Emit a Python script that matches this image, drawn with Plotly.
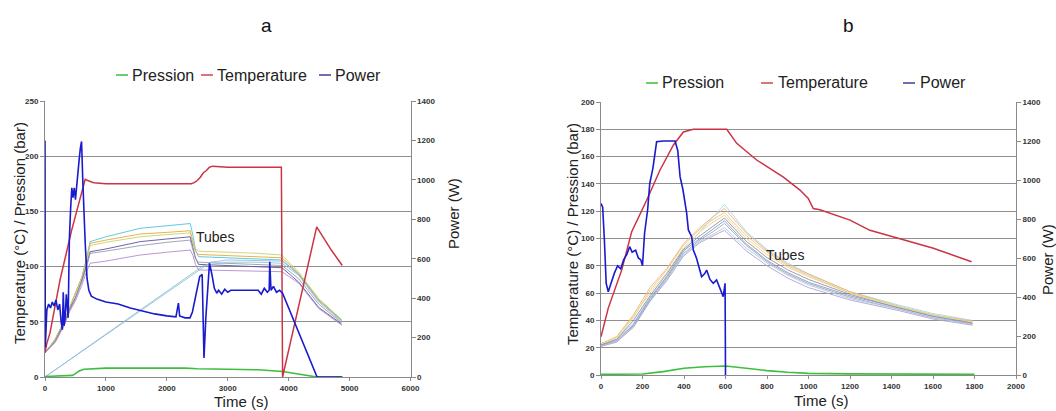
import plotly.graph_objects as go

W, H = 1056, 411

# ================= Panel a data =================
press_t_a = [0, 200, 450, 500, 560, 640, 800, 1000, 2300, 2500, 3000, 3500, 3900, 4466, 4880]
press_v_a = [0.5, 1, 1.5, 3, 5.5, 7, 7.5, 8, 8, 7.5, 7, 6.5, 5, 0, 0]

temp_t_a = [0, 28, 82, 247, 438, 600, 660, 700, 800, 1000, 1500, 2000, 2400, 2450, 2500,
            2550, 2600, 2650, 2700, 2750, 3000, 3500, 3880, 3900, 4460, 4550, 4700, 4880]
temp_v_a = [22, 30, 40, 88, 133, 168, 179, 178, 176, 175, 175, 175, 175, 176, 178,
            181, 185, 187, 190, 191, 190, 190, 190, 0, 136, 128, 115, 101]

power_t_a = [0, 5, 30, 60, 90, 120, 150, 180, 210, 240, 265, 285, 300, 315, 330, 350, 380,
             400, 420, 440, 460, 480, 500, 530, 560, 580, 600, 620, 640, 660, 690, 720, 760,
             850, 1000, 1200, 1400, 1600, 1800, 2000, 2150, 2190, 2210, 2300, 2380, 2420,
             2480, 2540, 2580, 2610, 2640, 2700, 2740, 2780, 2820, 2850, 2900, 2950, 3000,
             3050, 3100, 3500, 3550, 3600, 3650, 3680, 3690, 3710, 3750, 3800, 3850, 3900,
             4466, 4880]
power_v_a = [1200, 150, 340, 370, 350, 380, 360, 390, 340, 370, 280, 240, 430, 260, 300, 420, 300,
             700, 850, 960, 910, 960, 900, 1020, 1100, 1160, 1195, 1000, 800, 680, 500, 440, 410,
             395, 380, 370, 350, 335, 320, 310, 305, 375, 310, 300, 300, 330,
             430, 510, 520, 96, 300, 577, 520, 450, 425, 440, 420, 445, 430,
             440, 440, 440, 420, 450, 430, 440, 585, 440, 460, 430, 440, 425,
             0, 0]

tube_t_a = [0, 164, 301, 411, 500, 603, 685, 740, 1000, 1562, 2000, 2384, 2430, 2470, 2520,
            3000, 3500, 3890, 4164, 4493, 4870]
tube_v_a = [
    [22, 34, 49, 64, 75, 90, 108, 122.6, 127, 134.7, 137, 139, 128, 115, 109, 108, 107, 106, 93, 70, 51.6],
    [22, 34, 49, 64, 75, 90, 107, 121, 124, 129.5, 131, 132.5, 122, 114, 111, 110, 109, 108, 94, 70, 51],
    [22, 33, 48, 63, 74, 89, 105, 119, 122, 127, 129, 130.5, 121, 116, 114, 113, 112, 110.5, 95, 71, 52],
    [22, 32, 47, 62, 72, 87, 102, 113.5, 116, 122.6, 125, 127, 117, 108, 102, 101, 100, 99, 86, 63, 48],
    [22, 32, 46, 61, 71, 86, 100, 112, 114, 119, 122, 124, 115, 107, 104, 103, 102, 101, 89, 66, 49],
    [22, 31, 45, 60, 69, 83, 96, 103, 105, 110.5, 113, 115, 110, 102, 97, 96.5, 96, 95.4, 85, 62, 47],
]
tube7_t_a = [0, 2600, 3000, 3500, 3890, 4164, 4493, 4870]
tube7_v_a = [0, 101, 104, 104, 103, 92, 68, 50]
tube8_t_a = [0, 2720, 3000, 3500, 3890, 4164, 4493, 4870]
tube8_v_a = [0, 104, 106, 105.5, 105, 93, 69, 51]

# ================= Panel b data =================
press_t_b = [0, 200, 300, 400, 500, 600, 700, 800, 900, 1000, 1200, 1400, 1800]
press_v_b = [0.5, 0.7, 2.5, 4.9, 6, 6.6, 5, 3.2, 2, 1.2, 0.8, 0.6, 0.5]

temp_t_b = [0, 35, 100, 148, 220, 284, 349, 397, 445, 500, 606, 654, 750, 879, 959, 999,
            1023, 1055, 1200, 1296, 1441, 1602, 1786]
temp_v_b = [28, 49, 77, 105, 128, 150, 168.5, 178, 180, 180, 180, 169.7, 157.5, 145, 135.5, 129.4,
            122, 121, 113.5, 106, 100, 92.8, 83]

power_t_b = [0, 8, 16, 25, 35, 50, 64, 80, 95, 109, 125, 138, 150, 167, 180, 192, 200, 210,
             225, 235, 250, 268, 300, 357, 370, 381, 395, 413, 421, 437, 445, 460, 475, 485,
             500, 509, 525, 541, 557, 575, 589, 598, 600]
power_v_b = [880, 860, 700, 470, 427, 480, 521, 560, 545, 590, 620, 658, 630, 640, 600, 590, 560, 727,
             850, 983, 1060, 1196, 1200, 1200, 1150, 1017, 950, 829, 744, 709, 641, 600, 540, 504,
             520, 538, 490, 470, 487, 440, 402, 470, 0]

tube_t_b = [0, 75, 156, 236, 317, 397, 477, 540, 595, 700, 800, 900, 1000, 1200, 1440, 1600, 1790]
tube_v_b = [
    [22, 26, 38, 57, 72, 90, 105, 116, 125, 105, 92, 82, 74, 61, 51, 45, 40],
    [23, 28, 44, 64, 78, 96, 108, 116, 122, 104, 91, 81, 74, 61, 50, 44, 39.5],
    [22, 27, 42, 62, 77, 95, 107, 114, 119, 102, 90, 80, 73, 60, 50, 44, 39],
    [23, 28, 43, 60, 75, 93, 105, 112, 117, 100, 88, 79, 72, 60, 50, 44, 38.5],
    [22, 26, 40, 58, 74, 92, 102, 109, 115, 98, 86, 77, 70, 59, 49, 43, 38],
    [22, 25, 37, 56, 72, 91, 100, 107, 113, 96, 84, 75, 68, 58, 49, 43, 38],
    [22, 25, 36, 55, 71, 89, 99, 105, 111, 95, 83, 74, 67, 57, 48, 42, 37.5],
    [21, 25, 35, 54, 70, 88, 98, 103, 108, 93, 82, 73, 66, 56, 48, 42, 37],
    [21, 24, 35, 54, 69, 87, 97, 102, 106, 91, 80, 71, 64, 55, 47, 41, 36.5],
]

legend_labels = ["Pression", "Temperature", "Power"]

tube_colors_a = ["#4FC3D9", "#E8A838", "#C9D36A", "#5E4FA2", "#9A9AB0", "#B48ACF"]
tube_colors_b = ["#9FD8E8", "#F0B27A", "#E8C39E", "#F2D66B", "#8E8EB8", "#7F9FC8",
                 "#A6A6A6", "#AFC8E8", "#B0A0D0"]

GREEN = "#3DBE3D"
RED = "#CC3344"
BLUE = "#1A1ACF"
LEG_COLORS = [GREEN, "#C8474F", "#3C3C96"]

fig = go.Figure()

# ---------- Panel a ----------
for vals, col in zip(tube_v_a, tube_colors_a):
    fig.add_trace(go.Scatter(x=tube_t_a, y=vals, mode="lines", line=dict(color=col, width=0.9),
                             showlegend=False, xaxis="x", yaxis="y"))
fig.add_trace(go.Scatter(x=tube7_t_a, y=tube7_v_a, mode="lines", line=dict(color="#7FC4C8", width=0.8),
                         showlegend=False, xaxis="x", yaxis="y"))
fig.add_trace(go.Scatter(x=tube8_t_a, y=tube8_v_a, mode="lines", line=dict(color="#8CB4E0", width=0.8),
                         showlegend=False, xaxis="x", yaxis="y"))
fig.add_trace(go.Scatter(x=press_t_a, y=press_v_a, mode="lines", name=legend_labels[0],
                         line=dict(color=GREEN, width=1.6), xaxis="x", yaxis="y", showlegend=False))
fig.add_trace(go.Scatter(x=temp_t_a, y=temp_v_a, mode="lines", name=legend_labels[1],
                         line=dict(color=RED, width=1.5), xaxis="x", yaxis="y", showlegend=False))
fig.add_trace(go.Scatter(x=power_t_a, y=power_v_a, mode="lines", name=legend_labels[2],
                         line=dict(color=BLUE, width=1.6), xaxis="x", yaxis="y2", showlegend=False))

# ---------- Panel b ----------
for vals, col in zip(tube_v_b, tube_colors_b):
    fig.add_trace(go.Scatter(x=tube_t_b, y=vals, mode="lines", line=dict(color=col, width=0.9),
                             showlegend=False, xaxis="x2", yaxis="y3"))
fig.add_trace(go.Scatter(x=press_t_b, y=press_v_b, mode="lines", name=legend_labels[0],
                         line=dict(color=GREEN, width=1.6), xaxis="x2", yaxis="y3", showlegend=False))
fig.add_trace(go.Scatter(x=temp_t_b, y=temp_v_b, mode="lines", name=legend_labels[1],
                         line=dict(color=RED, width=1.5), xaxis="x2", yaxis="y3", showlegend=False))
fig.add_trace(go.Scatter(x=power_t_b, y=power_v_b, mode="lines", name=legend_labels[2],
                         line=dict(color=BLUE, width=1.6), xaxis="x2", yaxis="y4", showlegend=False))

tickfont = dict(family="Liberation Sans", size=8, color="#333333", weight="bold")
axcol = "#8a8a8a"
gridcol = "#8f8f8f"

common_x = dict(showline=True, linecolor=axcol, linewidth=1, ticks="outside", ticklen=3,
                tickcolor=axcol, showgrid=False, zeroline=False, tickfont=tickfont, automargin=False)
common_yl = dict(showline=True, linecolor=axcol, linewidth=1, ticks="outside", ticklen=4,
                 tickcolor=axcol, showgrid=True, gridcolor=gridcol, gridwidth=1, zeroline=False,
                 tickfont=tickfont, automargin=False)
common_yr = dict(showline=True, linecolor=axcol, linewidth=1, ticks="outside", ticklen=4,
                 tickcolor=axcol, showgrid=False, zeroline=False, tickfont=tickfont, automargin=False)


def lx(p):
    return p / W


def ly(p):
    return 1 - p / H


fig.update_layout(
    width=W, height=H,
    margin=dict(l=0, r=0, t=0, b=0, autoexpand=False),
    paper_bgcolor="white", plot_bgcolor="white",
    showlegend=False,
    xaxis=dict(domain=[lx(45), lx(410.5)], range=[0, 6000], dtick=1000, anchor="y", **common_x),
    yaxis=dict(domain=[ly(377), ly(101)], range=[0, 250], dtick=50, anchor="x", **common_yl),
    yaxis2=dict(overlaying="y", side="right", anchor="x", range=[0, 1400], dtick=200, **common_yr),
    xaxis2=dict(domain=[lx(601), lx(1016)], range=[0, 2000], dtick=200, anchor="y3", **common_x),
    yaxis3=dict(domain=[ly(375), ly(102)], range=[0, 200], dtick=20, anchor="x2", **common_yl),
    yaxis4=dict(overlaying="y3", side="right", anchor="x2", range=[0, 1400], dtick=200, **common_yr),
)

# ----- hand-drawn legends (short dash + label), as in the reference -----
leg_font = dict(family="Liberation Sans", size=16, color="#222222")
leg_a = [(116, 130), (201, 215), (319, 333)]   # (dash start, text start) px
leg_b = [(646, 660), (761, 776), (903, 918)]
shapes = []
ann = []
for (pos, ypix) in ((leg_a, 75), (leg_b, 83)):
    for (d0, t0), lab, col in zip(pos, legend_labels, LEG_COLORS):
        shapes.append(dict(type="line", xref="paper", yref="paper", x0=lx(d0), x1=lx(d0 + 12),
                           y0=ly(ypix), y1=ly(ypix), line=dict(color=col, width=1.5)))
        ann.append(dict(text=lab, x=lx(t0), y=ly(ypix), xref="paper", yref="paper",
                        xanchor="left", yanchor="middle", showarrow=False, font=leg_font))

title_font = dict(family="Liberation Sans", size=15, color="#222222")
C = dict(xanchor="center", yanchor="middle", showarrow=False)
ann += [
    dict(text="a", x=lx(266), y=ly(25), xref="paper", yref="paper",
         font=dict(family="Liberation Sans", size=19, color="#111111"), **C),
    dict(text="b", x=lx(848), y=ly(25), xref="paper", yref="paper",
         font=dict(family="Liberation Sans", size=19, color="#111111"), **C),
    dict(text="Time (s)", x=lx(241), y=ly(401), xref="paper", yref="paper",
         font=title_font, borderpad=0, **C),
    dict(text="Time (s)", x=lx(821), y=ly(400), xref="paper", yref="paper",
         font=title_font, borderpad=0, **C),
    dict(text="Temperature (°C) / Pression (bar)", x=lx(19), y=ly(233), xref="paper", yref="paper",
         textangle=-90, font=title_font, **C),
    dict(text="Temperature (°C) / Pression (bar)", x=lx(572), y=ly(234), xref="paper", yref="paper",
         textangle=-90, font=title_font, **C),
    dict(text="Power (W)", x=lx(453), y=ly(214), xref="paper", yref="paper",
         textangle=-90, font=title_font, **C),
    dict(text="Power (W)", x=lx(1047), y=ly(260), xref="paper", yref="paper",
         textangle=-90, font=title_font, **C),
    dict(text="Tubes", x=2795, y=127, xref="x", yref="y",
         font=dict(family="Liberation Sans", size=14, color="#222222"), **C),
    dict(text="Tubes", x=887, y=88, xref="x2", yref="y3",
         font=dict(family="Liberation Sans", size=14, color="#222222"), **C),
]
fig.update_layout(annotations=ann, shapes=shapes)

fig.write_html(
    "out.html",
    config={"displayModeBar": False},
    post_script="document.body.style.margin='0';document.body.style.padding='0';"
                "document.documentElement.style.overflow='hidden';",
)
